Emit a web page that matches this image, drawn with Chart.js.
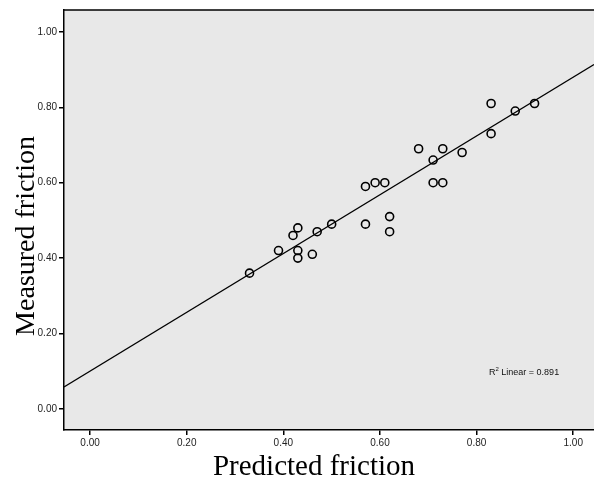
<!DOCTYPE html>
<html>
<head>
    <title>Measured vs predicted friction</title>
    <script src="https://cdn.jsdelivr.net/npm/chart.js@4.4.0/dist/chart.umd.min.js"></script>
    <style>
        html, body { margin: 0; padding: 0; background: #fff; }
    </style>
</head>
<body>
    <div style="width: 594px; height: 480px;">
        <canvas id="myChart"></canvas>
    </div>

    <script>
        // Data
        const predicted = [0.33, 0.39, 0.43, 0.43, 0.42, 0.43, 0.46, 0.47, 0.50, 0.57, 0.57, 0.59, 0.61,
                           0.62, 0.62, 0.68, 0.71, 0.71, 0.73, 0.73, 0.77, 0.83, 0.83, 0.88, 0.92];
        const measured  = [0.36, 0.42, 0.42, 0.40, 0.46, 0.48, 0.41, 0.47, 0.49, 0.59, 0.49, 0.60, 0.60,
                           0.51, 0.47, 0.69, 0.66, 0.60, 0.60, 0.69, 0.68, 0.73, 0.81, 0.79, 0.81];
        const xTicks = [0.00, 0.20, 0.40, 0.60, 0.80, 1.00];
        const yTicks = [0.00, 0.20, 0.40, 0.60, 0.80, 1.00];
        // fit line as drawn (intercept, slope) and R² label
        const fitIntercept = 0.10;
        const fitSlope = 0.78;
        const rSquared = '0.891';

        const xMin = -0.054, xMax = 1.043;
        const yMin = -0.056, yMax = 1.058;

        const points = predicted.map((x, i) => ({ x: x, y: measured[i] }));
        const fitLine = [xMin, xMax].map(x => ({ x: x, y: fitIntercept + fitSlope * x }));

        // plot background, frame, axis titles and R² note
        const decor = {
            id: 'decor',
            beforeDraw(chart) {
                const { ctx, chartArea: a } = chart;
                ctx.save();
                ctx.fillStyle = '#e8e8e8';
                ctx.fillRect(a.left, a.top, a.right - a.left, a.bottom - a.top);
                ctx.restore();
            },
            afterDraw(chart) {
                const { ctx, chartArea: a } = chart;
                ctx.save();
                ctx.strokeStyle = '#000';
                ctx.lineWidth = 1.5;
                ctx.beginPath();
                ctx.moveTo(a.left, a.top);
                ctx.lineTo(a.right, a.top);
                ctx.stroke();

                ctx.fillStyle = '#000';
                ctx.textAlign = 'center';
                ctx.textBaseline = 'alphabetic';
                ctx.font = '29px "Liberation Serif", "Times New Roman", serif';
                ctx.fillText('Predicted friction', 314, 475);

                ctx.font = '28px "Liberation Serif", "Times New Roman", serif';
                ctx.translate(34, 236);
                ctx.rotate(-Math.PI / 2);
                ctx.fillText('Measured friction', 0, 0);
                ctx.restore();

                ctx.save();
                ctx.fillStyle = '#111';
                ctx.textAlign = 'left';
                ctx.textBaseline = 'alphabetic';
                let x = 489;
                const y = 375;
                ctx.font = '9px "Liberation Sans", Arial, sans-serif';
                ctx.fillText('R', x, y);
                x += ctx.measureText('R').width;
                ctx.font = '6px "Liberation Sans", Arial, sans-serif';
                ctx.fillText('2', x, y - 4);
                x += ctx.measureText('2').width;
                ctx.font = '9px "Liberation Sans", Arial, sans-serif';
                ctx.fillText(' Linear = ' + rSquared, x, y);
                ctx.restore();
            }
        };

        const tickFont = { family: '"Liberation Sans", Arial, sans-serif', size: 10 };

        const config = {
            type: 'scatter',
            data: {
                datasets: [{
                    label: 'Friction',
                    data: points,
                    pointRadius: 4,
                    pointBorderWidth: 1.6,
                    pointBorderColor: '#000',
                    pointBackgroundColor: 'rgba(0,0,0,0)',
                    pointHoverRadius: 4
                }, {
                    type: 'line',
                    label: 'Fit',
                    data: fitLine,
                    borderColor: '#000',
                    borderWidth: 1.3,
                    pointRadius: 0,
                    fill: false
                }]
            },
            options: {
                responsive: true,
                maintainAspectRatio: false,
                animation: false,
                layout: { autoPadding: false, padding: { top: 10, right: 0, left: 0, bottom: 0 } },
                plugins: {
                    legend: { display: false },
                    tooltip: { enabled: false }
                },
                scales: {
                    x: {
                        type: 'linear',
                        min: xMin,
                        max: xMax,
                        afterBuildTicks: s => { s.ticks = xTicks.map(v => ({ value: v })); },
                        afterFit: s => { s.height = 50; s.paddingLeft = 0; s.paddingRight = 0; },
                        grid: { drawOnChartArea: false, drawTicks: true, tickLength: 5, color: '#000', lineWidth: 1.5 },
                        border: { display: true, color: '#000', width: 1.5 },
                        ticks: {
                            font: tickFont,
                            color: '#222',
                            padding: 2,
                            maxRotation: 0,
                            callback: v => v.toFixed(2)
                        }
                    },
                    y: {
                        type: 'linear',
                        min: yMin,
                        max: yMax,
                        afterBuildTicks: s => { s.ticks = yTicks.map(v => ({ value: v })); },
                        afterFit: s => { s.width = 64; s.paddingTop = 0; s.paddingBottom = 0; },
                        grid: { drawOnChartArea: false, drawTicks: true, tickLength: 5, color: '#000', lineWidth: 1.5 },
                        border: { display: true, color: '#000', width: 1.5 },
                        ticks: {
                            font: tickFont,
                            color: '#222',
                            padding: 2,
                            callback: v => v.toFixed(2)
                        }
                    }
                }
            },
            plugins: [decor]
        };

        const ctx = document.getElementById('myChart');
        new Chart(ctx, config);
    </script>
</body>
</html>
